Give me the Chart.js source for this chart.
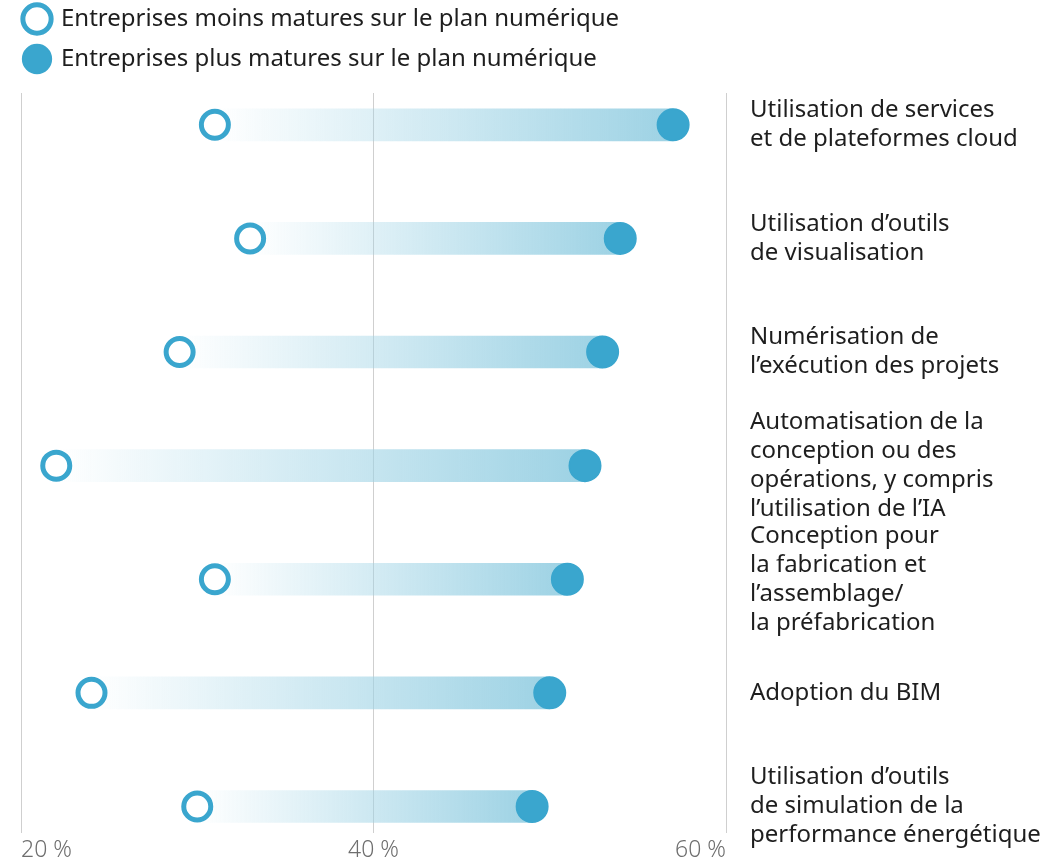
<!DOCTYPE html>
<html>
<head>
<meta charset="utf-8">
<script src="https://cdn.jsdelivr.net/npm/chart.js@4/dist/chart.umd.min.js"></script>
<style>
  html, body { margin: 0; padding: 0; background: #fff; }
  #wrap { width: 1055px; height: 867px; }
</style>
</head>
<body>
<div id="wrap"><canvas id="myChart"></canvas></div>
<script>
const categories = [
    ["Utilisation de services", "et de plateformes cloud"],
    ["Utilisation d\u2019outils", "de visualisation"],
    ["Num\u00e9risation de", "l\u2019ex\u00e9cution des projets"],
    ["Automatisation de la", "conception ou des", "op\u00e9rations, y compris", "l\u2019utilisation de l\u2019IA"],
    ["Conception pour", "la fabrication et", "l\u2019assemblage/", "la pr\u00e9fabrication"],
    ["Adoption du BIM"],
    ["Utilisation d\u2019outils", "de simulation de la", "performance \u00e9nerg\u00e9tique"],
];

const less_mature = [31, 33, 29, 22, 31, 24, 30];
const more_mature = [57, 54, 53, 52, 51, 50, 49];

const x_ticks = [20, 40, 60];

const series_labels = [
    "Entreprises moins matures sur le plan num\u00e9rique",
    "Entreprises plus matures sur le plan num\u00e9rique",
];

const blue = '#3aa6ce';
const font_family = "'Noto Sans', 'Open Sans', sans-serif";

// bar fades from transparent at the "less mature" dot to solid at the "more mature" dot
function barGradient(ctx) {
    const chart = ctx.chart;
    if (!chart.chartArea) return 'rgba(160, 212, 230, 0.6)';
    const x = chart.scales.x;
    const i = ctx.dataIndex;
    const x0 = x.getPixelForValue(less_mature[i]);
    const x1 = x.getPixelForValue(more_mature[i]);
    const g = chart.ctx.createLinearGradient(x0, 0, x1, 0);
    g.addColorStop(0, 'rgba(160, 212, 230, 0)');
    g.addColorStop(1, 'rgba(157, 210, 228, 1)');
    return g;
}

const legendTweak = {
    id: 'legendTweak',
    beforeInit(chart) {
        const fit = chart.legend.fit;
        chart.legend.fit = function () {
            fit.bind(chart.legend)();
            this.height += 12;
        };
    },
    afterLayout(chart) {
        chart.legend.left -= 12;
    }
};

const myChart = new Chart('myChart', {
    data: {
        datasets: [
            {
                type: 'line',
                label: series_labels[0],
                data: less_mature.map((v, i) => ({x: v, y: i})),
                showLine: false,
                pointRadius: 13.5,
                pointBorderWidth: 5,
                pointBackgroundColor: '#fff',
                pointBorderColor: blue,
            },
            {
                type: 'line',
                label: series_labels[1],
                data: more_mature.map((v, i) => ({x: v, y: i})),
                showLine: false,
                pointRadius: 15.5,
                pointBorderWidth: 2,
                pointBackgroundColor: blue,
                pointBorderColor: blue,
            },
            {
                type: 'bar',
                label: 'range',
                data: less_mature.map((v, i) => ({x: [v, more_mature[i]], y: i})),
                backgroundColor: barGradient,
                borderWidth: 0,
                barThickness: 32,
            },
        ]
    },
    options: {
        indexAxis: 'y',
        responsive: true,
        maintainAspectRatio: false,
        animation: false,
        layout: {
            padding: {top: -9, left: 21, right: 0, bottom: 0}
        },
        scales: {
            x: {
                type: 'linear',
                min: 20,
                max: 60,
                afterBuildTicks: (scale) => { scale.ticks = x_ticks.map(v => ({value: v})); },
                grid: {color: '#cfcfcf', lineWidth: 1, drawTicks: false},
                border: {display: false},
                ticks: {
                    align: 'inner',
                    padding: 3,
                    color: '#6e6e6e',
                    font: {family: font_family, size: 23, weight: 300},
                    callback: (v) => v + ' %',
                }
            },
            y: {
                type: 'linear',
                position: 'right',
                reverse: true,
                offset: false,
                min: -0.28,
                max: 6.237,
                afterBuildTicks: (scale) => { scale.ticks = categories.map((c, i) => ({value: i})); },
                afterFit: (scale) => {
                    scale.width = 329;
                    scale.paddingTop = 0;
                    scale.paddingBottom = 0;
                },
                grid: {display: false, drawTicks: false},
                border: {display: false},
                ticks: {
                    autoSkip: false,
                    crossAlign: 'near',
                    padding: 24,
                    color: '#1e1e1e',
                    font: {family: font_family, size: 24, lineHeight: 1.21},
                    callback: (v) => categories[v],
                }
            }
        },
        plugins: {
            legend: {
                position: 'top',
                align: 'start',
                labels: {
                    usePointStyle: true,
                    pointStyle: 'circle',
                    boxHeight: 20,
                    padding: 16,
                    color: '#1e1e1e',
                    font: {family: font_family, size: 24},
                    filter: (item) => item.datasetIndex < 2,
                }
            },
            tooltip: {enabled: false}
        }
    },
    plugins: [legendTweak]
});
</script>
</body>
</html>
